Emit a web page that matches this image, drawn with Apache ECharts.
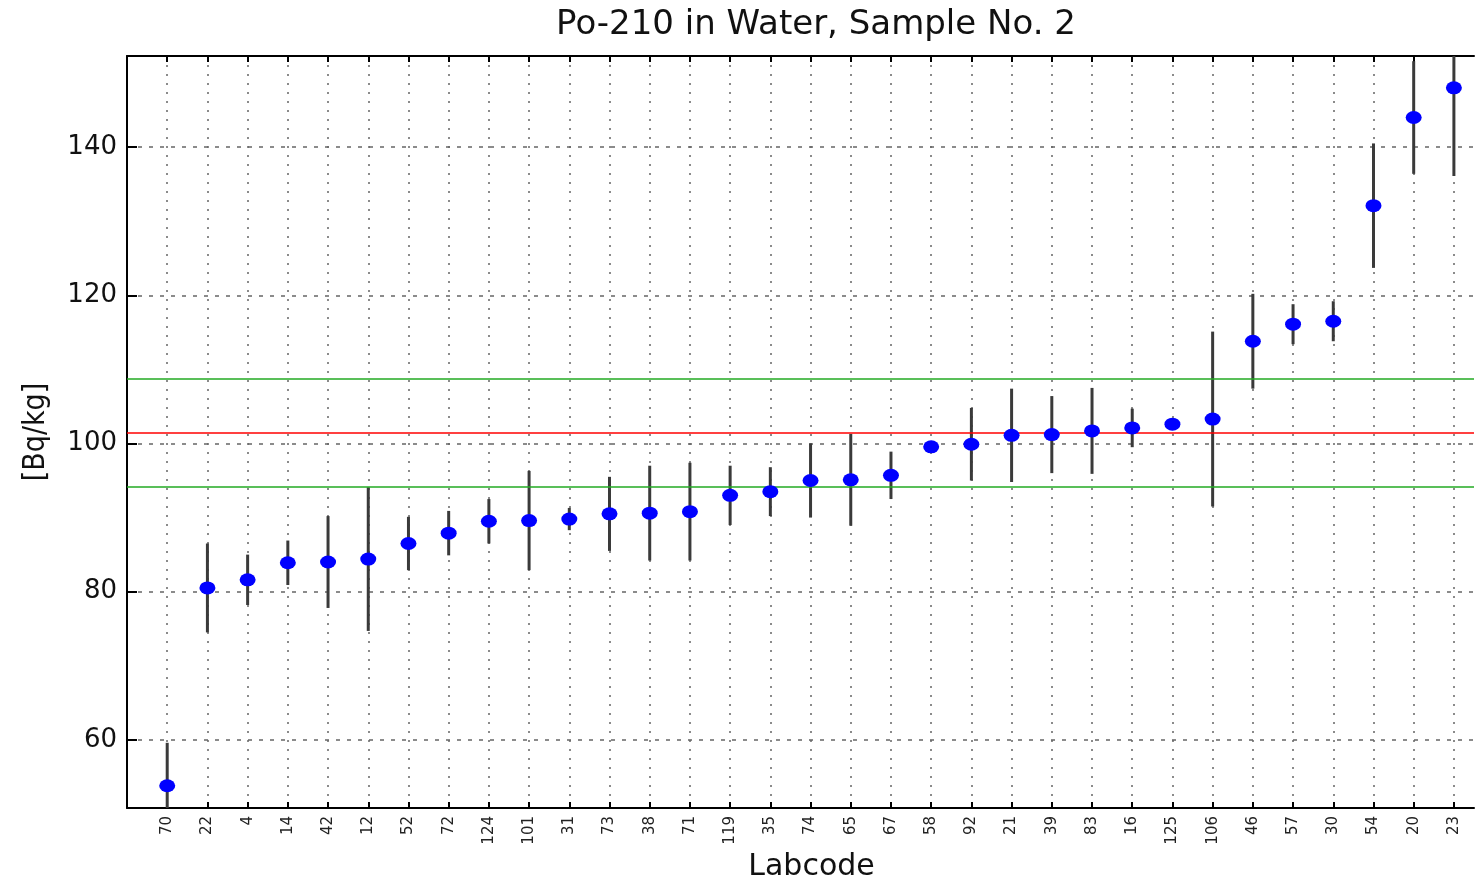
<!DOCTYPE html>
<html>
<head>
<meta charset="utf-8">
<script src="https://cdn.jsdelivr.net/npm/echarts@6/dist/echarts.min.js"></script>
<style>
  html, body { margin: 0; padding: 0; background: #fff; }
  #chart { width: 1476px; height: 878px; }
</style>
</head>
<body>
<div id="chart"></div>
<script>
// Laboratory codes, ordered by reported activity
const labcodes = ['70','22','4','14','42','12','52','72','124','101','31','73','38','71','119','35','74','65','67','58','92','21','39','83','16','125','106','46','57','30','54','20','23'];
// Reported Po-210 activity [Bq/kg]
const values = [53.8,80.5,81.6,83.9,84.0,84.4,86.5,87.9,89.5,89.6,89.8,90.5,90.6,90.8,93.0,93.5,95.0,95.1,95.7,99.55,99.9,101.1,101.2,101.7,102.1,102.6,103.3,113.8,116.1,116.5,132.1,144.0,148.0];
// Reported uncertainty (± Bq/kg)
const uncertainties = [5.8,6.0,3.4,3.0,6.2,9.7,3.6,3.0,3.0,6.7,1.5,5.0,6.4,6.6,4.0,3.3,5.0,6.2,3.2,0.5,4.9,6.3,5.2,5.8,2.6,0.5,11.8,6.4,2.7,2.7,8.4,7.6,11.9];
// Target value and acceptance limits
const targetValue = 101.5;
const lowerLimit = 94.2;
const upperLimit = 108.8;
// Y tick values
const yTicks = [60, 80, 100, 120, 140];

const positions = labcodes.map((_, i) => i + 1);
const points = values.map((v, i) => [i + 1, v]);
const bars = values.map((v, i) => [i + 1, v - uncertainties[i], v + uncertainties[i]]);

const chart = echarts.init(document.getElementById('chart'));
const axisLine = { show: true, lineStyle: { color: '#000', width: 2 } };
const xMin = 0, xMax = 33.5, yMin = 50.8, yMax = 152.3;

chart.setOption({
  animation: false,
  backgroundColor: '#fff',
  title: {
    text: 'Po-210 in Water, Sample No. 2',
    left: 811, top: 3, textAlign: 'center',
    textStyle: { fontFamily: 'DejaVu Sans', fontSize: 34, fontWeight: 'normal', color: '#111' }
  },
  grid: { left: 127, right: 2, top: 56, bottom: 70, containLabel: false, outerBoundsMode: 'none' },
  xAxis: [{
    type: 'value', min: xMin, max: xMax, position: 'bottom',
    name: 'Labcode', nameLocation: 'middle', nameGap: 42,
    nameTextStyle: { fontFamily: 'DejaVu Sans', fontSize: 30, color: '#111', padding: [0, 0, 0, 22] },
    axisLine: axisLine,
    axisTick: { show: true, inside: true, length: 6, customValues: positions, lineStyle: { color: '#000', width: 2 } },
    axisLabel: {
      customValues: positions, rotate: 90, margin: 8,
      fontFamily: 'DejaVu Sans', fontSize: 15, color: '#222',
      formatter: v => labcodes[Math.round(v) - 1] || ''
    },
    splitLine: { show: true, lineStyle: { color: '#666', type: [2, 7], width: 1.5 } }
  }, {
    type: 'value', min: xMin, max: xMax, position: 'top',
    axisLine: axisLine,
    axisTick: { show: true, inside: true, length: 6, customValues: positions, lineStyle: { color: '#000', width: 2 } },
    axisLabel: { show: false }, splitLine: { show: false }
  }],
  yAxis: [{
    type: 'value', min: yMin, max: yMax, position: 'left',
    name: '[Bq/kg]', nameLocation: 'middle', nameGap: 76, nameRotate: 90,
    nameTextStyle: { fontFamily: 'DejaVu Sans Condensed', fontSize: 30, color: '#111' },
    axisLine: axisLine,
    axisTick: { show: true, inside: true, length: 10, customValues: yTicks, lineStyle: { color: '#000', width: 2 } },
    axisLabel: { customValues: yTicks, margin: 10, fontFamily: 'DejaVu Sans', fontSize: 26, color: '#111' },
    splitLine: { show: true, lineStyle: { color: '#666', type: [4, 7], width: 1.5 } }
  }],
  series: [{
    // uncertainty bars
    type: 'custom',
    data: bars,
    clip: true,
    z: 3,
    renderItem: (params, api) => {
      const p1 = api.coord([api.value(0), api.value(1)]);
      const p2 = api.coord([api.value(0), api.value(2)]);
      return {
        type: 'line',
        shape: { x1: p1[0], y1: p1[1], x2: p2[0], y2: p2[1] },
        style: { stroke: '#3a3a3a', lineWidth: 3 }
      };
    }
  }, {
    // reported values and reference lines
    type: 'scatter',
    data: points,
    symbol: 'circle',
    symbolSize: [16, 13],
    itemStyle: { color: '#0000ff', opacity: 1 },
    z: 5,
    markLine: {
      silent: true, symbol: 'none', label: { show: false },
      data: [
        { yAxis: targetValue, lineStyle: { color: '#ff0000', type: 'solid', width: 1.5 } },
        { yAxis: upperLimit, lineStyle: { color: '#22aa22', type: 'solid', width: 1.5 } },
        { yAxis: lowerLimit, lineStyle: { color: '#22aa22', type: 'solid', width: 1.5 } }
      ]
    }
  }]
});
</script>
</body>
</html>
